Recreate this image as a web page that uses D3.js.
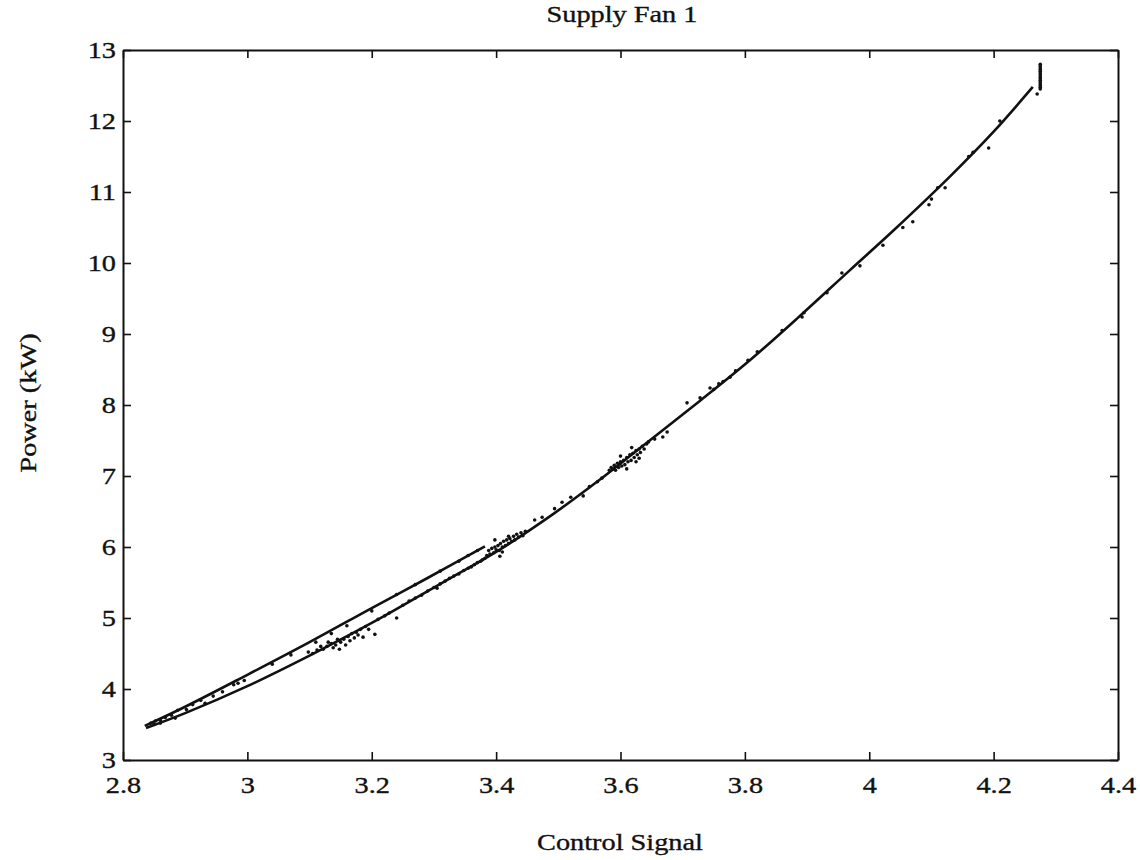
<!DOCTYPE html>
<html>
<head>
<meta charset="utf-8">
<script src="https://cdn.jsdelivr.net/npm/d3@7"></script>
<style>
  body { margin: 0; background: #fff; }
  svg { display: block; background: #fff; }
  text { font-family: "Liberation Serif", "DejaVu Serif", serif; fill: #111; stroke: #111; stroke-width: 0.35px; }
</style>
</head>
<body>
<script>
// ---------------- data ----------------
const titleText = "Supply Fan 1";
const xLabelText = "Control Signal";
const yLabelText = "Power (kW)";

const xTickValues = [2.8, 3.0, 3.2, 3.4, 3.6, 3.8, 4.0, 4.2, 4.4];
const xTickLabels = ["2.8", "3", "3.2", "3.4", "3.6", "3.8", "4", "4.2", "4.4"];
const yTickValues = [3, 4, 5, 6, 7, 8, 9, 10, 11, 12, 13];
const yTickLabels = ["3", "4", "5", "6", "7", "8", "9", "10", "11", "12", "13"];

// main (lower / rising) fitted curve
const mainX = [2.837, 2.9, 3.0, 3.1, 3.2, 3.33, 3.4, 3.491, 3.567, 3.628, 3.728, 3.808, 3.888, 3.969, 4.038, 4.13, 4.2, 4.263];
const mainY = [3.45, 3.66, 4.04, 4.47, 4.93, 5.58, 5.93, 6.46, 6.95, 7.37, 8.06, 8.63, 9.25, 9.9, 10.45, 11.22, 11.85, 12.48];

// upper (return) branch curve
const upperX = [2.835, 2.9, 3.0, 3.1, 3.2, 3.289, 3.382];
const upperY = [3.48, 3.75, 4.2, 4.66, 5.14, 5.56, 6.01];

// measured points
const dotX = [
  2.845, 2.852, 2.86, 2.868, 2.878, 2.888, 2.902, 2.912, 2.925, 2.932, 2.945, 2.96, 2.978, 2.985, 2.995, 3.04, 3.07, 3.11, 3.135, 3.16, 3.2, 3.24, 3.27, 3.31, 3.34, 3.355, 3.37,
  2.85, 2.86, 2.884,
  3.098, 3.105, 3.112, 3.118, 3.122, 3.128, 3.13, 3.135, 3.138, 3.142, 3.145, 3.148, 3.15, 3.155, 3.158, 3.162, 3.165, 3.168, 3.172, 3.175, 3.178, 3.182, 3.186, 3.19, 3.195, 3.205, 3.21, 3.221, 3.228, 3.24, 3.25, 3.26, 3.27, 3.28, 3.29, 3.3, 3.305, 3.31, 3.318, 3.325, 3.332, 3.34, 3.348, 3.355, 3.36, 3.365, 3.37, 3.375, 3.378, 3.382,
  3.385, 3.388, 3.39, 3.393, 3.396, 3.398, 3.4, 3.403, 3.405, 3.407, 3.41, 3.412, 3.415, 3.417, 3.42, 3.422, 3.425, 3.428, 3.43, 3.433, 3.436, 3.44, 3.443, 3.447, 3.41, 3.42, 3.398, 3.406,
  3.462, 3.474, 3.494, 3.506, 3.52, 3.54, 3.55, 3.563, 3.57,
  3.582, 3.585, 3.588, 3.59, 3.592, 3.595, 3.597, 3.6, 3.602, 3.605, 3.607, 3.61, 3.612, 3.615, 3.617, 3.62, 3.622, 3.625, 3.627, 3.63, 3.632, 3.635, 3.638, 3.642, 3.645, 3.61, 3.625, 3.6, 3.618, 3.63,
  3.655, 3.668, 3.675, 3.707, 3.728, 3.744, 3.75, 3.758, 3.765, 3.776, 3.785, 3.805, 3.82, 3.86, 3.892, 3.895, 3.932, 3.956, 3.985, 4.022, 4.054, 4.07, 4.096, 4.1, 4.11, 4.122, 4.16, 4.167, 4.192, 4.21, 4.27,
  4.275, 4.275, 4.275, 4.275, 4.275, 4.275, 4.275, 4.275, 4.275, 4.275, 4.275, 4.275, 4.275, 4.275, 4.275
];
const dotY = [
  3.52, 3.55, 3.56, 3.6, 3.63, 3.7, 3.71, 3.78, 3.84, 3.80, 3.9, 3.96, 4.06, 4.08, 4.12, 4.35, 4.48, 4.66, 4.78, 4.89, 5.1, 5.33, 5.47, 5.66, 5.8, 5.88, 5.95,
  3.5, 3.52, 3.59,
  4.52, 4.5, 4.55, 4.6, 4.56, 4.6, 4.66, 4.64, 4.58, 4.62, 4.7, 4.56, 4.66, 4.7, 4.62, 4.74, 4.68, 4.78, 4.72, 4.8, 4.76, 4.84, 4.73, 4.88, 4.84, 4.77, 4.98, 5.03, 5.07, 5.0, 5.18, 5.24, 5.28, 5.32, 5.38, 5.43, 5.42, 5.48, 5.52, 5.56, 5.59, 5.62, 5.67, 5.7, 5.72, 5.75, 5.78, 5.8, 5.82, 5.84,
  5.88, 5.95, 5.9, 5.98, 5.92, 6.0, 5.96, 6.02, 5.95, 6.05, 6.0, 6.08, 6.02, 6.1, 6.05, 6.12, 6.08, 6.15, 6.1, 6.18, 6.14, 6.2, 6.16, 6.22, 5.93, 6.15, 6.1, 5.87,
  6.38, 6.42, 6.54, 6.63, 6.7, 6.72, 6.85, 6.92, 6.97,
  7.08, 7.12, 7.1, 7.15, 7.08, 7.18, 7.12, 7.2, 7.14, 7.22, 7.16, 7.26, 7.2, 7.3, 7.22, 7.32, 7.26, 7.36, 7.3, 7.38, 7.33, 7.42, 7.38, 7.45, 7.48, 7.1, 7.2, 7.28, 7.4, 7.25,
  7.52, 7.55, 7.62, 8.03, 8.1, 8.24, 8.22, 8.3, 8.33, 8.39, 8.48, 8.63, 8.75, 9.05, 9.24, 9.3, 9.58, 9.86, 9.96, 10.25, 10.5, 10.58, 10.82, 10.9, 11.06, 11.06, 11.5, 11.56, 11.62, 12.0, 12.38,
  12.45, 12.475, 12.5, 12.525, 12.55, 12.575, 12.6, 12.625, 12.65, 12.675, 12.7, 12.725, 12.75, 12.775, 12.8
];

// ---------------- layout ----------------
const W = 1140, H = 860;
const plotL = 123, plotR = 1118, plotT = 50, plotB = 760;
const FS = 24, STRETCH = 1.18;

const svg = d3.select("body").append("svg").attr("width", W).attr("height", H);

const x = d3.scaleLinear().domain([2.8, 4.4]).range([plotL, plotR]);
const y = d3.scaleLinear().domain([3, 13]).range([plotB, plotT]);

function styleAxis(g) {
  g.select(".domain").attr("stroke", "#111").attr("stroke-width", 2);
  g.selectAll(".tick line").attr("stroke", "#111").attr("stroke-width", 1.6);
  g.selectAll(".tick text").attr("font-size", FS).attr("fill", "#111")
    .attr("font-family", "Liberation Serif, serif");
}

// bottom axis with labels
const gx = svg.append("g").attr("transform", `translate(0,${plotB})`)
  .call(d3.axisBottom(x).tickValues(xTickValues)
    .tickFormat((d, i) => xTickLabels[i]).tickSizeInner(-8).tickSizeOuter(0).tickPadding(16));
styleAxis(gx);
gx.selectAll(".tick text").attr("transform", `scale(${STRETCH},1)`);

// top axis, ticks only
const gt = svg.append("g").attr("transform", `translate(0,${plotT})`)
  .call(d3.axisTop(x).tickValues(xTickValues).tickFormat("").tickSizeInner(-8).tickSizeOuter(0));
styleAxis(gt);

// left axis with labels
const gy = svg.append("g").attr("transform", `translate(${plotL},0)`)
  .call(d3.axisLeft(y).tickValues(yTickValues)
    .tickFormat((d, i) => yTickLabels[i]).tickSizeInner(-8).tickSizeOuter(0).tickPadding(6));
styleAxis(gy);
gy.selectAll(".tick text").attr("transform", `scale(${STRETCH},1)`);

// right axis, ticks only
const gr = svg.append("g").attr("transform", `translate(${plotR},0)`)
  .call(d3.axisRight(y).tickValues(yTickValues).tickFormat("").tickSizeInner(-8).tickSizeOuter(0));
styleAxis(gr);

// ---------------- marks ----------------
const line = d3.line().x(d => x(d[0])).y(d => y(d[1])).curve(d3.curveCatmullRom.alpha(0.5));

svg.append("path")
  .datum(mainX.map((v, i) => [v, mainY[i]]))
  .attr("fill", "none").attr("stroke", "#111").attr("stroke-width", 2.6)
  .attr("d", line);

svg.append("path")
  .datum(upperX.map((v, i) => [v, upperY[i]]))
  .attr("fill", "none").attr("stroke", "#111").attr("stroke-width", 2.6)
  .attr("d", line);

svg.append("g").selectAll("circle")
  .data(dotX.map((v, i) => [v, dotY[i]]))
  .join("circle")
  .attr("cx", d => x(d[0])).attr("cy", d => y(d[1]))
  .attr("r", 1.8).attr("fill", "#111");

// ---------------- texts ----------------
svg.append("text")
  .attr("transform", `translate(622,22) scale(${STRETCH},1)`)
  .attr("text-anchor", "middle").attr("font-size", FS)
  .text(titleText);

svg.append("text")
  .attr("transform", `translate(620,850) scale(${STRETCH},1)`)
  .attr("text-anchor", "middle").attr("font-size", FS)
  .text(xLabelText);

svg.append("text")
  .attr("transform", `translate(36,403) rotate(-90) scale(${STRETCH},1)`)
  .attr("text-anchor", "middle").attr("font-size", FS)
  .text(yLabelText);
</script>
</body>
</html>
